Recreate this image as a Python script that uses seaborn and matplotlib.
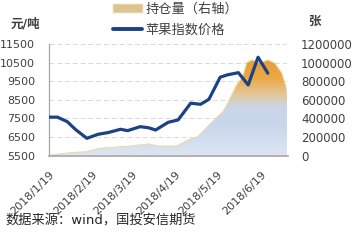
import numpy as np
import pandas as pd
import matplotlib
matplotlib.use("Agg")
import matplotlib.pyplot as plt
import matplotlib.dates as mdates
from matplotlib.colors import LinearSegmentedColormap
from matplotlib.patches import PathPatch
from matplotlib.lines import Line2D
from matplotlib.patches import Patch
import seaborn as sns

# ---- data ----
price_dates = ["2018-01-19", "2018-01-25", "2018-02-01", "2018-02-07", "2018-02-15",
               "2018-02-23", "2018-03-02", "2018-03-11", "2018-03-16", "2018-03-25",
               "2018-03-31", "2018-04-05", "2018-04-14", "2018-04-21", "2018-04-30",
               "2018-05-07", "2018-05-13", "2018-05-21", "2018-05-26", "2018-06-03",
               "2018-06-10", "2018-06-17", "2018-06-24"]
price_values = [7570, 7570, 7330, 6900, 6435, 6650, 6740, 6920, 6845, 7060,
                7000, 6880, 7295, 7420, 8320, 8260, 8530, 9715, 9840, 9960,
                9300, 10790, 9930]

oi_dates = ["2018-01-19", "2018-02-03", "2018-02-15", "2018-02-24", "2018-03-06",
            "2018-03-18", "2018-03-31", "2018-04-07", "2018-04-20", "2018-04-28",
            "2018-05-05", "2018-05-12", "2018-05-18", "2018-05-23", "2018-05-27",
            "2018-06-01", "2018-06-06", "2018-06-09", "2018-06-13", "2018-06-17",
            "2018-06-21", "2018-06-24", "2018-06-29", "2018-07-04", "2018-07-07",
            "2018-07-08"]
oi_values = [5000, 32000, 43000, 80000, 90000, 104000, 126000, 104000, 104000, 169000,
             204000, 312000, 402000, 473000, 581000, 742000, 850000, 1000000, 1029000, 1000000,
             1011000, 1029000, 994000, 886000, 742000, 634000]

tick_dates = ["2018-01-19", "2018-02-19", "2018-03-19", "2018-04-19", "2018-05-19", "2018-06-19"]
tick_labels = ["2018/1/19", "2018/2/19", "2018/3/19", "2018/4/19", "2018/5/19", "2018/6/19"]
left_ticks = [5500, 6500, 7500, 8500, 9500, 10500, 11500]
right_ticks = [0, 200000, 400000, 600000, 800000, 1000000, 1200000]

series_price = "苹果指数价格"
series_oi = "持仓量（右轴）"

# ---- style ----
sns.set_style("white")
plt.rcParams["font.family"] = ["DejaVu Sans", "Noto Sans CJK SC"]

price_df = pd.DataFrame({"date": pd.to_datetime(price_dates), "price": price_values})
oi_df = pd.DataFrame({"date": pd.to_datetime(oi_dates), "oi": oi_values})

fig = plt.figure(figsize=(3.62, 2.46), dpi=100)
ax = fig.add_axes([49 / 362, 1 - 155.7 / 246, (287.5 - 49) / 362, (155.7 - 44) / 246])
ax2 = ax.twinx()
ax.set_zorder(2)
ax.patch.set_visible(False)

x0 = mdates.date2num(pd.Timestamp("2018-01-19"))
x1 = mdates.date2num(pd.Timestamp("2018-07-08"))

# ---- open interest area with vertical gradient ----
ax2.set_ylim(0, 1200000)
fill = ax2.fill_between(oi_df["date"], oi_df["oi"], 0, color="none", linewidth=0)
path = fill.get_paths()[0]
clip = PathPatch(path, transform=ax2.transData, facecolor="none", edgecolor="none")
ax2.add_patch(clip)
cmap = LinearSegmentedColormap.from_list(
    "oi", [(0.0, "#DDE6F2"), (0.30, "#C8D7EC"), (0.48, "#CBD5E6"),
           (0.60, "#E3C79A"), (0.75, "#EBA94A"), (1.0, "#E8982A")])
grad = np.linspace(0, 1, 256).reshape(-1, 1)
im = ax2.imshow(grad, extent=[x0, x1, 0, 1100000], aspect="auto", origin="lower",
                cmap=cmap, zorder=1)
im.set_clip_path(clip)
sns.lineplot(data=oi_df, x="date", y="oi", ax=ax2, color="#EADBA8", linewidth=0.8,
             zorder=2, legend=False)

ax2.set_yticks(right_ticks)
ax2.set_yticklabels([str(v) for v in right_ticks])
ax2.tick_params(axis="y", length=0, pad=9.7, labelsize=8.5, labelcolor="#404040")
ax2.grid(axis="y", color="#D9D9D9", linestyle=(0, (5, 3)), linewidth=0.7)
ax2.set_axisbelow(True)
ax2.set_ylabel("")

# ---- price line ----
sns.lineplot(data=price_df, x="date", y="price", ax=ax, color="#1B4383", linewidth=2.3,
             zorder=3, legend=False)
ax.set_ylim(5500, 11500)
ax.set_yticks(left_ticks)
ax.set_yticklabels([str(v) for v in left_ticks])
ax.tick_params(axis="y", length=0, pad=10, labelsize=8, labelcolor="#404040")
ax.set_xlim(x0, x1)
ax.set_xticks(mdates.date2num(pd.to_datetime(tick_dates)))
ax.set_xticklabels(tick_labels, rotation=45, ha="right", rotation_mode="anchor")
ax.tick_params(axis="x", length=0, pad=10, labelsize=8, labelcolor="#404040")
ax.set_xlabel("")
ax.set_ylabel("")
ax.grid(False)

for a in (ax, ax2):
    for s in ("top", "right", "left", "bottom"):
        a.spines[s].set_visible(False)
ax.spines["left"].set_visible(True)
ax.spines["left"].set_color("#A6A6A6")
ax.spines["left"].set_linewidth(0.9)
ax.spines["bottom"].set_visible(True)
ax.spines["bottom"].set_color("#A6A6A6")
ax.spines["bottom"].set_linewidth(1.2)

# ---- texts ----
fig.text(25 / 362, 1 - 24 / 246, "元/吨", ha="center", va="center", fontsize=9,
         fontweight="bold", color="#404040")
fig.text(314 / 362, 1 - 21 / 246, "张", ha="center", va="center", fontsize=9,
         fontweight="bold", color="#404040")
fig.text(5 / 362, 1 - 221 / 246, "数据来源：wind，国投安信期货", ha="left", va="center",
         fontsize=9.5, color="#262626")

handles = [Patch(facecolor="#DCC48E", edgecolor="#E6D3A3"),
           Line2D([0], [0], color="#1B4383", linewidth=2.8)]
fig.legend(handles, [series_oi, series_price], loc="upper left",
           bbox_to_anchor=(113 / 362, 1 - 3 / 246), frameon=False,
           handlelength=2.2, handleheight=0.55, handletextpad=0.25, labelspacing=0.55,
           borderpad=0, borderaxespad=0,
           labelcolor="#404040", prop={"style": "italic", "size": 9.5})

fig.savefig("out.png", dpi=100)
